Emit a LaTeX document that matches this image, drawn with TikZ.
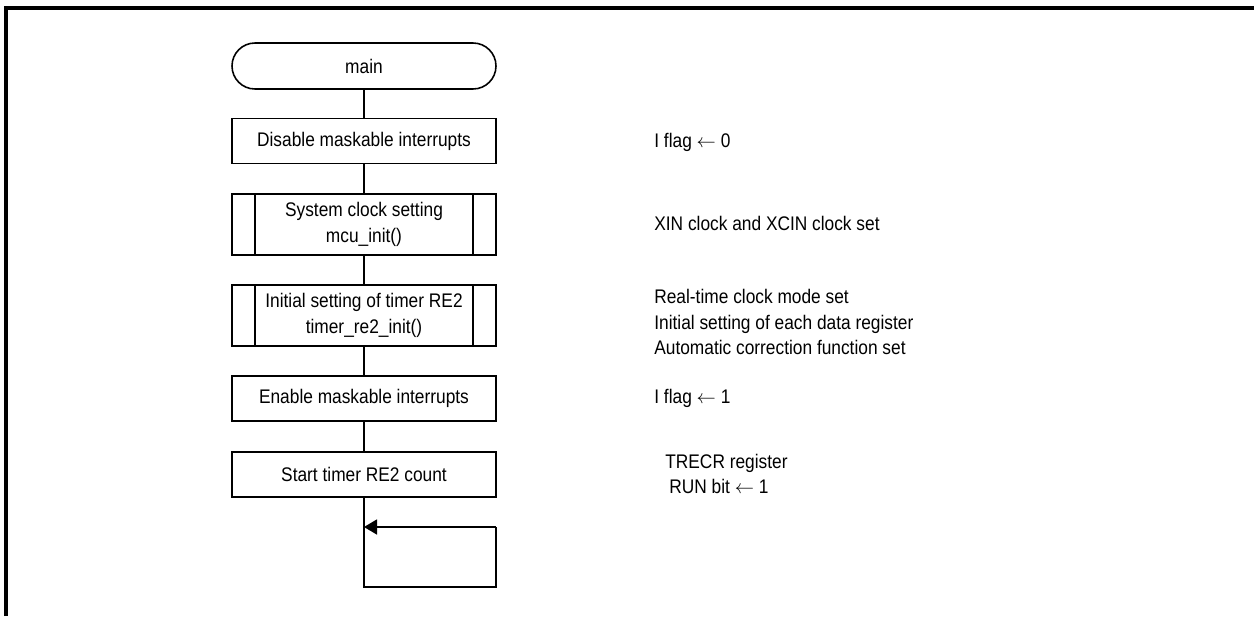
\documentclass[tikz,border=0pt]{standalone}
\usepackage{fontspec}
\setmainfont{Liberation Sans}[FakeStretch=0.88]
\usetikzlibrary{arrows.meta}

\begin{document}
\begin{tikzpicture}[
    every node/.style={font=\fontsize{11.2}{14.5}\selectfont},
    proc/.style={draw, line width=.9pt, minimum width=5.28cm, minimum height=.9cm, align=center, inner sep=0pt},
    sub/.style={proc, minimum height=1.22cm},
    term/.style={proc, minimum height=.92cm, rounded corners=.46cm},
    note/.style={anchor=west, align=left, inner sep=0pt}
  ]
  \useasboundingbox (0,0) rectangle (25.08,-12.32);
  \draw[line width=2pt] (.12,-12.32) -- (.12,-.16) -- (25.08,-.16);

  % flow
  \node[term] (main) at (7.28,-1.32) {main};
  \node[proc] (di) at (7.28,-2.82) {Disable maskable interrupts};
  \node[sub] (clk) at (7.28,-4.49) {System clock setting\\mcu\_init()};
  \node[sub] (re2) at (7.28,-6.31) {Initial setting of timer RE2\\timer\_re2\_init()};
  \node[proc] (ei) at (7.28,-7.97) {Enable maskable interrupts};
  \node[proc] (run) at (7.28,-9.49) {Start timer RE2 count};
  \foreach \n in {clk,re2} {
    \draw[line width=.9pt] ([xshift=.48cm]\n.north west) -- ([xshift=.48cm]\n.south west);
    \draw[line width=.9pt] ([xshift=-.48cm]\n.north east) -- ([xshift=-.48cm]\n.south east);
  }
  \draw[line width=.9pt] (main) -- (di) -- (clk) -- (re2) -- (ei) -- (run);

  % endless loop
  \coordinate (lp) at (9.92,-11.74);
  \coordinate (la) at (7.28,-10.54);
  \draw[line width=.9pt] (run.south) -- (run.south |- lp) -- (lp) -- (lp |- la);
  \draw[line width=.9pt, -{Triangle[length=.26cm,width=.3cm]}] (lp |- la) -- (la);

  % comments on the right
  \node[note] (n1) at (13.08,-2.84) {I flag $\leftarrow$ 0};
  \node[note] (n2) at (13.08,-4.46) {XIN clock and XCIN clock set};
  \node[note] (n3) at (13.08,-6.44) {Real-time clock mode set\\Initial setting of each data register\\Automatic correction function set};
  \node[note] (n4) at (13.08,-7.96) {I flag $\leftarrow$ 1};
  \node[note] (n5) at (13.30,-9.48) {TRECR register\\\hspace{.08cm}RUN bit $\leftarrow$ 1};
\end{tikzpicture}
\end{document}
